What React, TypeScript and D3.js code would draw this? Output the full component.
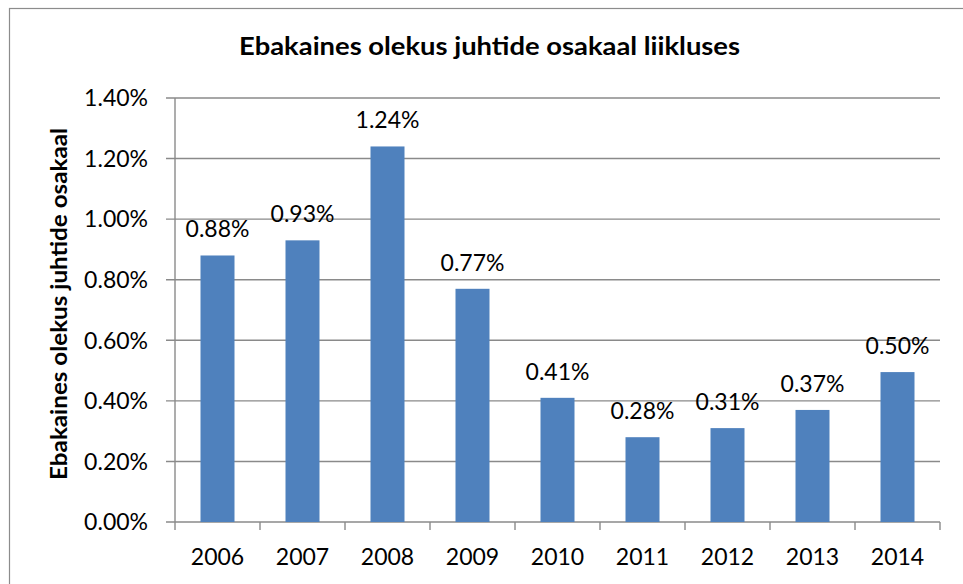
import React from "react";
import * as d3 from "d3";

const years = ["2006", "2007", "2008", "2009", "2010", "2011", "2012", "2013", "2014"];
const shares = [0.88, 0.93, 1.24, 0.77, 0.41, 0.28, 0.31, 0.37, 0.495];
const shareLabels = ["0.88%", "0.93%", "1.24%", "0.77%", "0.41%", "0.28%", "0.31%", "0.37%", "0.50%"];
const yTicks = [0, 0.2, 0.4, 0.6, 0.8, 1.0, 1.2, 1.4];

const W = 963;
const H = 584;
const left = 175;
const right = 940;
const top = 98;
const bottom = 522;
const font = "Lato, 'Open Sans', sans-serif";

export default function App() {
  const x = d3.scaleBand<string>().domain(years).range([left, right]).paddingInner(0.6).paddingOuter(0.3);
  const xb = d3.scaleBand<string>().domain(years).range([left, right]);
  const y = d3.scaleLinear().domain([0, 1.4]).range([bottom, top]);
  const grid = "#8a8a8a";
  return (
    <svg width={W} height={H} style={{ position: "absolute", left: 0, top: 0, background: "#fff" }}>
      <rect x={9.5} y={8.5} width={W + 20} height={H + 20} fill="#fff" stroke="#8c8c8c" strokeWidth={1.2} />
      <text x={489.5} y={55} textAnchor="middle" fontFamily={font} fontWeight="bold" fontSize={24}
        textLength={501} lengthAdjust="spacingAndGlyphs">Ebakaines olekus juhtide osakaal liikluses</text>
      {yTicks.map((t) => (
        <g key={t}>
          <line x1={166} x2={right} y1={y(t)} y2={y(t)} stroke={grid} strokeWidth={1.4} />
          <text x={148} y={y(t)} dy="0.36em" textAnchor="end" fontFamily={font} fontSize={23} fill="#000">
            {d3.format(".2f")(t)}%
          </text>
        </g>
      ))}
      <line x1={left} x2={left} y1={top} y2={bottom} stroke={grid} strokeWidth={1.4} />
      {years.map((yr) => (
        <line key={"t" + yr} x1={(xb(yr) as number) + xb.bandwidth()} x2={(xb(yr) as number) + xb.bandwidth()}
          y1={bottom} y2={530} stroke={grid} strokeWidth={1.4} />
      ))}
      <line x1={left} x2={left} y1={bottom} y2={530} stroke={grid} strokeWidth={1.4} />
      {years.map((yr, i) => (
        <g key={yr}>
          <rect x={x(yr)} y={y(shares[i])} width={x.bandwidth()} height={bottom - y(shares[i])} fill="#4F81BD" />
          <text x={(x(yr) as number) + x.bandwidth() / 2} y={y(shares[i]) - 18} textAnchor="middle"
            fontFamily={font} fontSize={23} fill="#000">{shareLabels[i]}</text>
          <text x={(x(yr) as number) + x.bandwidth() / 2} y={565} textAnchor="middle"
            fontFamily={font} fontSize={23} fill="#000">{yr}</text>
        </g>
      ))}
      <text transform={`translate(67, 304) rotate(-90)`} textAnchor="middle"
        fontFamily={font} fontWeight="bold" fontSize={23} textLength={352} lengthAdjust="spacingAndGlyphs">
        Ebakaines olekus juhtide osakaal
      </text>
    </svg>
  );
}
